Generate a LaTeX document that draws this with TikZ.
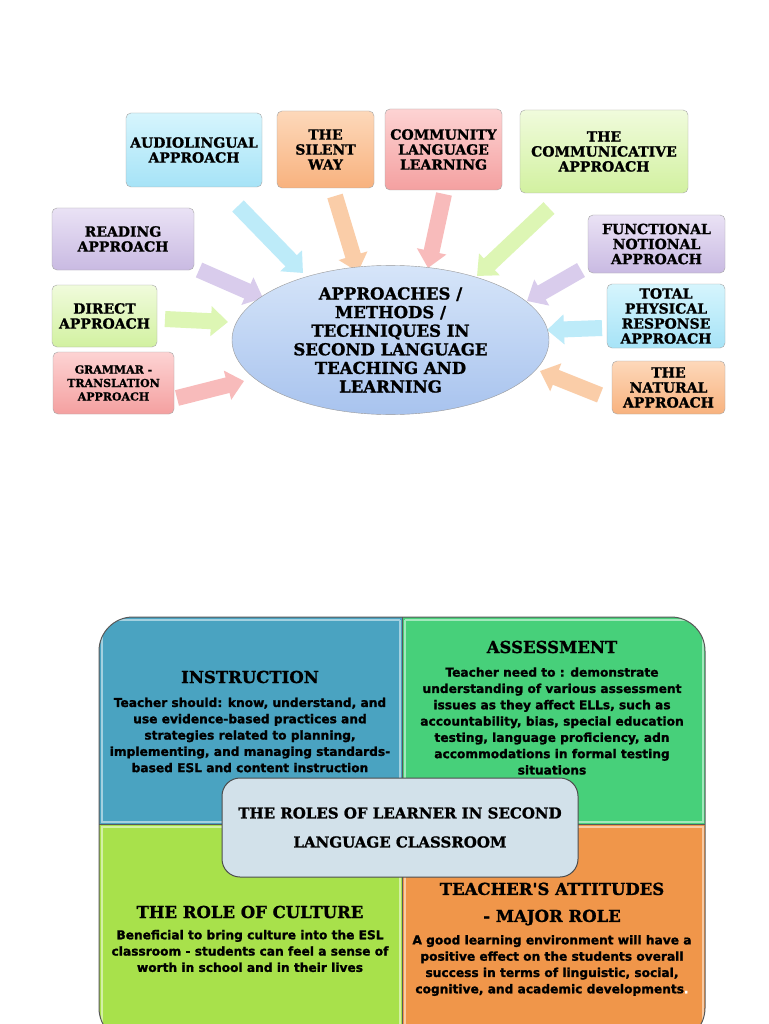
\documentclass[tikz,border=0pt]{standalone}
\usepackage{fontspec}
\newfontfamily\hdfont{DejaVu Serif}[BoldFeatures={FakeBold=1.2}]
\newfontfamily\bdfont{DejaVu Sans}[BoldFeatures={FakeBold=1.4}]
\usetikzlibrary{arrows.meta,shapes.geometric}
\definecolor{cyT}{HTML}{D6F5FD}\definecolor{cyB}{HTML}{A6E3F7}
\definecolor{peT}{HTML}{FDD8BA}\definecolor{peB}{HTML}{F8B27E}
\definecolor{piT}{HTML}{FDD3D3}\definecolor{piB}{HTML}{F4A0A0}
\definecolor{grT}{HTML}{F0FBDC}\definecolor{grB}{HTML}{D2F1A0}
\definecolor{laT}{HTML}{EAE2F5}\definecolor{laB}{HTML}{C9BAE2}
\definecolor{elT}{HTML}{D6E5F9}\definecolor{elB}{HTML}{A8C3EE}
\definecolor{aCy}{HTML}{BDEBF9}
\definecolor{aPe}{HTML}{FACDA8}
\definecolor{aPi}{HTML}{F8BBBB}
\definecolor{aGr}{HTML}{DDF6B4}
\definecolor{aLa}{HTML}{D9CCEC}
\definecolor{qInstr}{HTML}{4AA3C1}
\definecolor{qAssess}{HTML}{47D07A}
\definecolor{qCult}{HTML}{A8E14B}
\definecolor{qAttit}{HTML}{F0964A}
\definecolor{roleBg}{HTML}{D2E1EA}
\tikzset{
  tbox/.style={draw=black!35, rounded corners=5pt, align=center, inner sep=2pt,
    font=\hdfont\bfseries\fontsize{14}{15}\selectfont},
  cybox/.style={top color=cyT, bottom color=cyB},
  pebox/.style={top color=peT, bottom color=peB},
  pibox/.style={top color=piT, bottom color=piB},
  grbox/.style={top color=grT, bottom color=grB},
  labox/.style={top color=laT, bottom color=laB},
  blk/.style={line width=16pt, -{Triangle[length=17pt 0 0,width=29pt 0 0]}},
  qhead/.style={align=center, font=\hdfont\bfseries\fontsize{16.5}{27}\selectfont},
  qbody/.style={align=center, font=\bdfont\bfseries\fontsize{12.2}{16.3}\selectfont},
  bevel/.style={line width=2pt},
}
\begin{document}
\begin{tikzpicture}[x=1pt,y=-1pt]
\useasboundingbox (0,0) rectangle (768,1024);
\fill[white] (0,0) rectangle (768,1024);

% ---- top diagram: arrows first
\coordinate (audT) at (238,206); \coordinate (audH) at (303,273);
\coordinate (silT) at (335,196); \coordinate (silH) at (358,272);
\coordinate (cllT) at (444,194); \coordinate (cllH) at (428,268);
\coordinate (comT) at (549,208); \coordinate (comH) at (477,276);
\coordinate (reaT) at (199,270); \coordinate (reaH) at (263,298);
\coordinate (funT) at (581,270); \coordinate (funH) at (527,301);
\coordinate (dirT) at (165,319); \coordinate (dirH) at (228,322);
\coordinate (tprT) at (602,328); \coordinate (tprH) at (547,330);
\coordinate (graT) at (177,398); \coordinate (graH) at (244,381);
\coordinate (natT) at (600,395); \coordinate (natH) at (540,371);
\draw[blk, draw=aCy] (audT) -- (audH);
\draw[blk, draw=aPe] (silT) -- (silH);
\draw[blk, draw=aPi] (cllT) -- (cllH);
\draw[blk, draw=aGr] (comT) -- (comH);
\draw[blk, draw=aLa] (reaT) -- (reaH);
\draw[blk, draw=aLa] (funT) -- (funH);
\draw[blk, draw=aGr] (dirT) -- (dirH);
\draw[blk, draw=aCy] (tprT) -- (tprH);
\draw[blk, draw=aPi] (graT) -- (graH);
\draw[blk, draw=aPe] (natT) -- (natH);

\node[ellipse, draw=black!40, top color=elT, bottom color=elB, minimum width=317pt, minimum height=134pt,
  align=center, inner sep=0pt, font=\hdfont\bfseries\fontsize{16.5}{18.6}\selectfont] (ell) at (390.5,340)
  {APPROACHES /\\METHODS /\\TECHNIQUES IN\\SECOND LANGUAGE\\TEACHING AND\\LEARNING};

\node[tbox, cybox, minimum width=136pt, minimum height=74pt] (aud) at (194,150) {AUDIOLINGUAL\\APPROACH};
\node[tbox, pebox, minimum width=97pt, minimum height=77pt] (sil) at (325.5,149.5) {THE\\SILENT\\WAY};
\node[tbox, pibox, minimum width=117pt, minimum height=81pt] (cll) at (443.5,149.5) {COMMUNITY\\LANGUAGE\\LEARNING};
\node[tbox, grbox, minimum width=168pt, minimum height=83pt] (com) at (604,151.5) {THE\\COMMUNICATIVE\\APPROACH};
\node[tbox, labox, minimum width=142pt, minimum height=62pt] (rea) at (123,239) {READING\\APPROACH};
\node[tbox, labox, minimum width=137pt, minimum height=58pt] (fun) at (656.5,244) {FUNCTIONAL\\NOTIONAL\\APPROACH};
\node[tbox, grbox, minimum width=105pt, minimum height=62pt] (dir) at (104.5,316) {DIRECT\\APPROACH};
\node[tbox, cybox, minimum width=118pt, minimum height=64pt] (tpr) at (666,316) {TOTAL\\PHYSICAL\\RESPONSE\\APPROACH};
\node[tbox, pibox, minimum width=121pt, minimum height=62pt, font=\hdfont\bfseries\fontsize{11}{13.5}\selectfont] (gra) at (113.5,383) {GRAMMAR -\\TRANSLATION\\APPROACH};
\node[tbox, pebox, minimum width=113pt, minimum height=53pt] (nat) at (668.5,387.5) {THE\\NATURAL\\APPROACH};

% ---- bottom diagram
\begin{scope}
  \clip[rounded corners=34pt] (99,617) rectangle (705,1042);
  \fill[qInstr] (99,617) rectangle (402,824);
  \fill[qAssess] (402,617) rectangle (705,824);
  \fill[qCult] (99,824) rectangle (402,1042);
  \fill[qAttit] (402,824) rectangle (705,1042);
  \draw[bevel, qInstr!50!white] (101,821.5) -- (399.5,821.5) -- (399.5,619.5);
  \draw[bevel, qAssess!50!white] (404.5,619.5) -- (404.5,821.5) -- (702.5,821.5) -- (702.5,619.5);
  \draw[bevel, qCult!50!white] (101.5,1040) -- (101.5,826.5) -- (399.5,826.5) -- (399.5,1040);
  \draw[bevel, qAttit!50!white] (404.5,1040) -- (404.5,826.5) -- (702.5,826.5) -- (702.5,1040);
  \draw[bevel, qInstr!50!white] (101.5,821.5) -- (101.5,619.5) -- (399.5,619.5);
  \draw[bevel, qAssess!50!white] (404.5,619.5) -- (702.5,619.5);
\end{scope}
\draw[black!65, line width=1pt] (402,617) -- (402,1042);
\draw[black!65, line width=1pt] (99,824) -- (705,824);
\draw[black!65, line width=1pt, rounded corners=34pt] (99,617) rectangle (705,1042);

\node[qhead] (insH) at (250,677) {INSTRUCTION};
\node[qbody] (insB) at (250,735) {Teacher should: know, understand, and\\use evidence-based practices and\\strategies related to planning,\\implementing, and managing standards-\\based ESL and content instruction};

\node[qhead] (asH) at (552,647) {ASSESSMENT};
\node[qbody] (asB) at (552,721) {Teacher need to : demonstrate\\understanding of various assessment\\issues as they affect ELLs, such as\\accountability, bias, special education\\testing, language proficiency, adn\\accommodations in formal testing\\situations};

\node[qhead] (cuH) at (250,912) {THE ROLE OF CULTURE};
\node[qbody] (cuB) at (250,951) {Beneficial to bring culture into the ESL\\classroom - students can feel a sense of\\worth in school and in their lives};

\node[qhead] (atH) at (552,904) {TEACHER'S ATTITUDES\\- MAJOR ROLE};
\node[qbody] (atB) at (552,965.5) {A good learning environment will have a\\positive effect on the students overall\\success in terms of linguistic, social,\\cognitive, and academic developments{\color{white}.}};

\node[draw=black!70, line width=1pt, fill=roleBg, rounded corners=18pt, minimum width=356pt, minimum height=99pt,
  align=center, font=\hdfont\bfseries\fontsize{15}{29}\selectfont] (role) at (400,827.5)
  {THE ROLES OF LEARNER IN SECOND\\LANGUAGE CLASSROOM};
\end{tikzpicture}
\end{document}
